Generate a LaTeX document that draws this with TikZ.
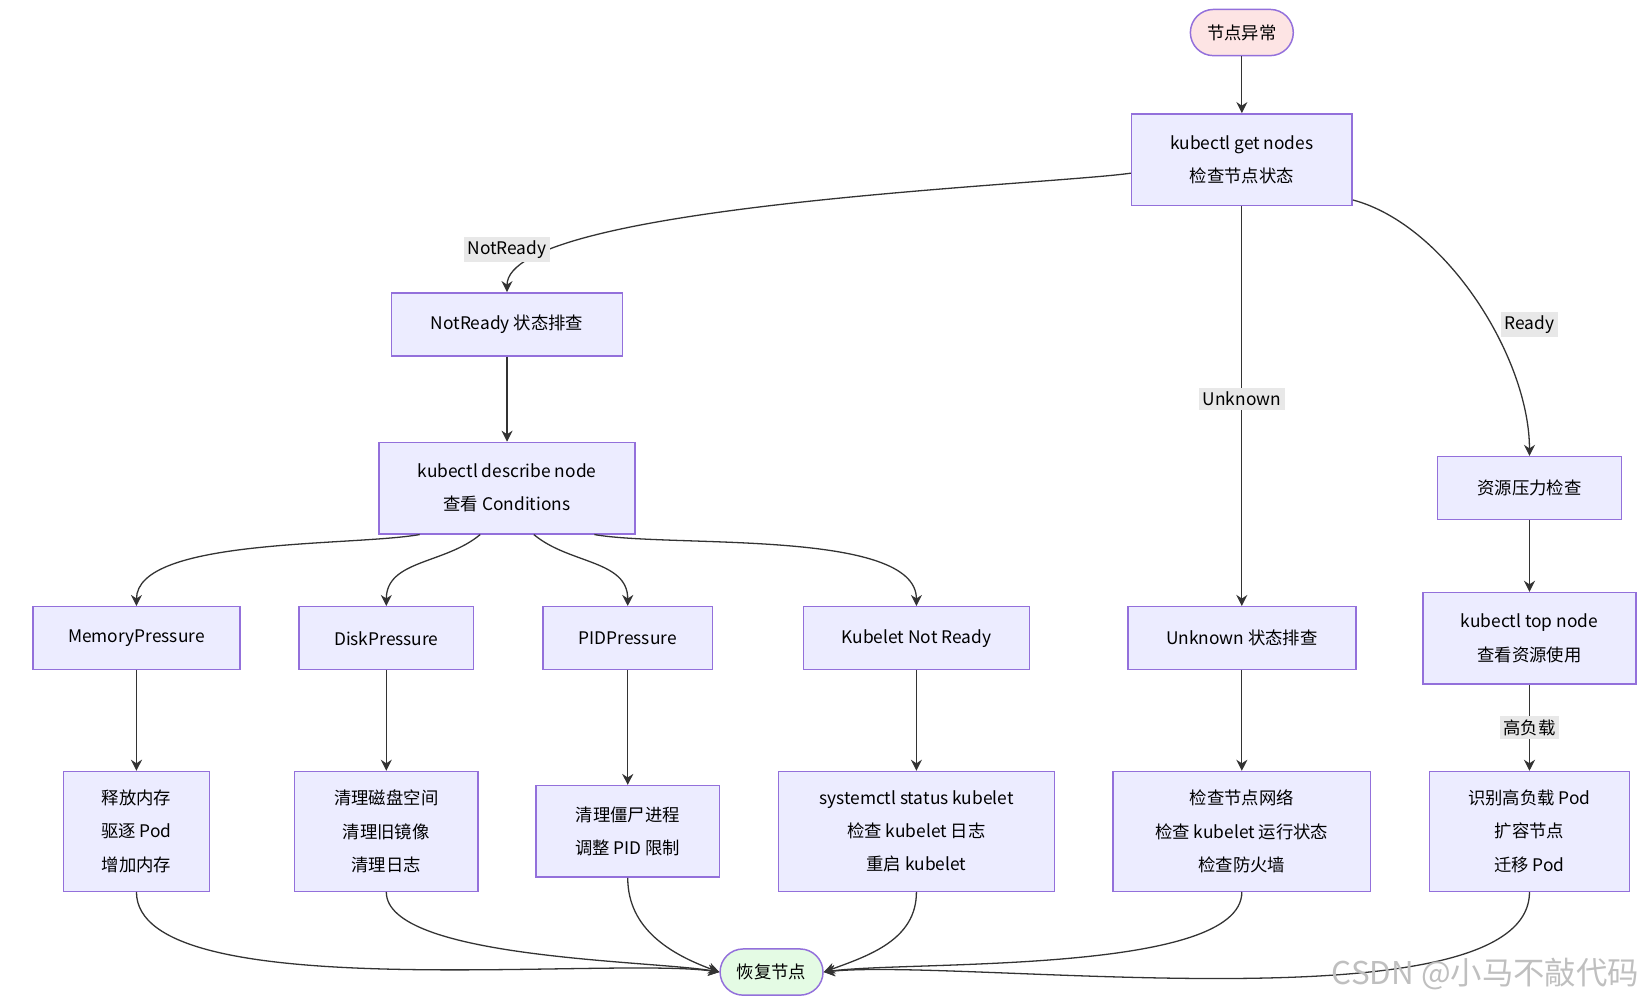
\documentclass[tikz,border=0pt]{standalone}
\usepackage{fontspec}
\setmainfont{Noto Sans CJK SC}
\usetikzlibrary{arrows.meta}
\definecolor{bfill}{HTML}{ECECFF}
\definecolor{bdraw}{HTML}{9370DB}
\definecolor{sfill}{HTML}{FDE4E4}
\definecolor{efill}{HTML}{E4FBE4}
\definecolor{lfill}{HTML}{E8E8E8}
\begin{document}
\begin{tikzpicture}[x=0.01cm,y=-0.01cm,
 every node/.style={font=\fontsize{4.7}{7}\selectfont,align=center,inner sep=0pt},
 box/.style={draw=bdraw,fill=bfill,line width=0.4pt,minimum width=#1},
 term/.style={draw=bdraw,line width=0.4pt,rounded corners=0.22cm,minimum width=0.98cm,minimum height=0.44cm},
 lab/.style={fill=lfill,inner sep=1pt},
 arr/.style={draw=black!80,line width=0.35pt,-{Stealth[length=3pt,width=3pt]}}]
\useasboundingbox (0,0) rectangle (1568,955);
\node[term,fill=sfill] (s) at (1183,31) {节点异常};
\node[box=2.1cm,minimum height=0.87cm] (gn) at (1183,152) {kubectl get nodes\\[2pt]检查节点状态};
\node[box=2.2cm,minimum height=0.6cm] (nr) at (483,309) {NotReady 状态排查};
\node[box=2.44cm,minimum height=0.87cm] (ds) at (483,465) {kubectl describe node\\[2pt]查看 Conditions};
\node[box=1.75cm,minimum height=0.6cm] (rp) at (1457,465) {资源压力检查};
\node[box=1.97cm,minimum height=0.6cm] (mp) at (130,608) {MemoryPressure};
\node[box=1.66cm,minimum height=0.6cm] (dp) at (368,608) {DiskPressure};
\node[box=1.61cm,minimum height=0.6cm] (pp) at (598,608) {PIDPressure};
\node[box=2.15cm,minimum height=0.6cm] (kn) at (873,608) {Kubelet Not Ready};
\node[box=2.17cm,minimum height=0.6cm] (un) at (1183,608) {Unknown 状态排查};
\node[box=2.03cm,minimum height=0.87cm] (tn) at (1457,608) {kubectl top node\\[2pt]查看资源使用};
\node[box=1.39cm,minimum height=1.14cm] (a1) at (130,792) {释放内存\\[2pt]驱逐 Pod\\[2pt]增加内存};
\node[box=1.75cm,minimum height=1.14cm] (a2) at (368,792) {清理磁盘空间\\[2pt]清理旧镜像\\[2pt]清理日志};
\node[box=1.75cm,minimum height=0.87cm] (a3) at (598,792) {清理僵尸进程\\[2pt]调整 PID 限制};
\node[box=2.63cm,minimum height=1.14cm] (a4) at (873,792) {systemctl status kubelet\\[2pt]检查 kubelet 日志\\[2pt]重启 kubelet};
\node[box=2.45cm,minimum height=1.14cm] (a5) at (1183,792) {检查节点网络\\[2pt]检查 kubelet 运行状态\\[2pt]检查防火墙};
\node[box=1.9cm,minimum height=1.14cm] (a6) at (1457,792) {识别高负载 Pod\\[2pt]扩容节点\\[2pt]迁移 Pod};
\node[term,fill=efill] (e) at (735,926) {恢复节点};
\draw[arr] (s) -- (gn);
\draw[arr] (gn.187) to[out=188,in=90,looseness=0.35] (nr.north);
\node[lab] at (483,238) {NotReady};
\draw[arr] (gn) -- (un);
\node[lab] at (1183,380) {Unknown};
\draw[arr] (gn.-20) to[out=-15,in=90,looseness=0.8] (rp.north);
\node[lab] at (1457,309) {Ready};
\draw[arr] (nr) -- (ds);
\draw[arr] (ds.-152) to[out=190,in=90,looseness=0.6] (mp.north);
\draw[arr] (ds.-120) to[out=-140,in=90] (dp.north);
\draw[arr] (ds.-60) to[out=-40,in=90] (pp.north);
\draw[arr] (ds.-28) to[out=-10,in=90,looseness=0.6] (kn.north);
\draw[arr] (rp) -- (tn);
\draw[arr] (tn) -- (a6);
\node[lab] at (1457,693) {高负载};
\draw[arr] (mp) -- (a1);
\draw[arr] (dp) -- (a2);
\draw[arr] (pp) -- (a3);
\draw[arr] (kn) -- (a4);
\draw[arr] (un) -- (a5);
\draw[arr] (a1.south) to[out=-90,in=172,looseness=0.5] (e.west);
\draw[arr] (a2.south) to[out=-90,in=170,looseness=0.5] (e.west);
\draw[arr] (a3.south) to[out=-90,in=160] (e.west);
\draw[arr] (a4.south) to[out=-90,in=20] (e.east);
\draw[arr] (a5.south) to[out=-90,in=8,looseness=0.5] (e.east);
\draw[arr] (a6.south) to[out=-90,in=6,looseness=0.5] (e.east);
\node[text=black!25,font=\fontsize{8.5}{10}\selectfont] (wm) at (1415,928) {CSDN @小马不敲代码};
\end{tikzpicture}
\end{document}
